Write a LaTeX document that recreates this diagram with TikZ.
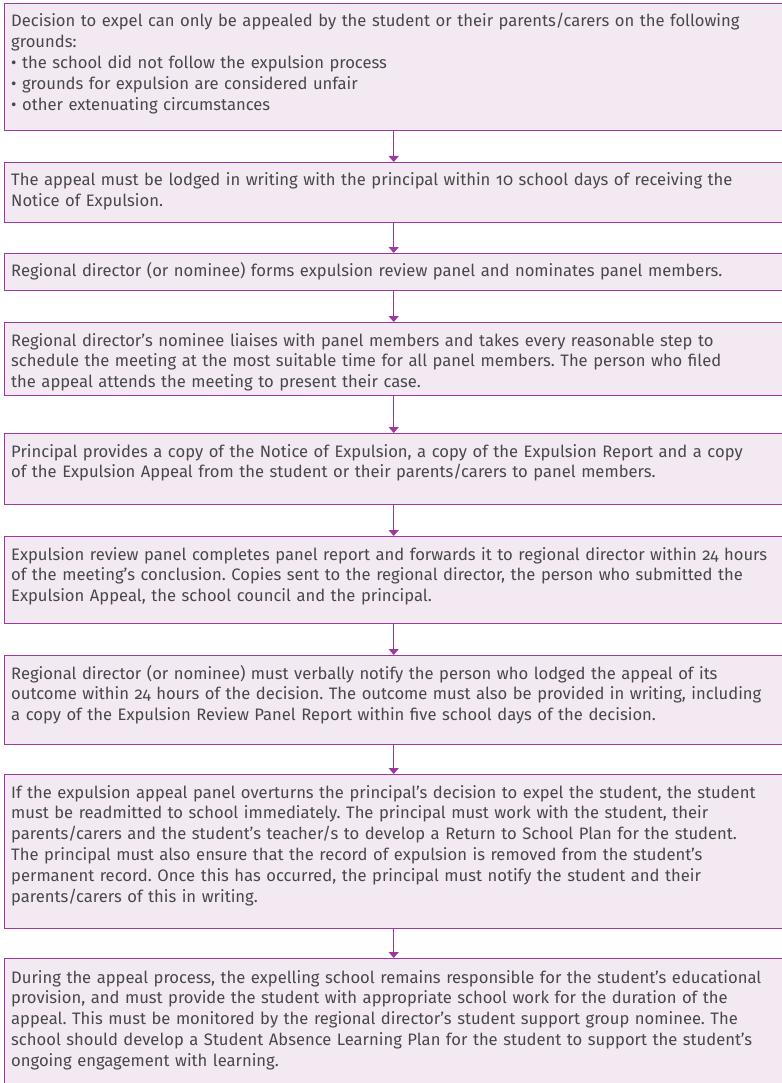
\documentclass[tikz,border=0pt]{standalone}
\usepackage{fontspec}
\setmainfont{Fira Sans}[Numbers=OldStyle]
\usetikzlibrary{arrows.meta}
\definecolor{boxline}{RGB}{160,55,160}
\definecolor{boxfill}{RGB}{243,233,242}
\definecolor{boxtext}{RGB}{72,72,72}
\frenchspacing

\begin{document}
\begin{tikzpicture}[x=1pt, y=1pt,
	stepbox/.style={draw=boxline, fill=boxfill, line width=1.4pt,
		minimum width=800pt, anchor=north west, inner sep=0pt},
	steptext/.style={anchor=base west, inner sep=0pt, text width=772pt,
		align=left, text=boxtext, font=\fontsize{16.6}{20.8}\selectfont},
	link/.style={draw=boxline, line width=1.5pt,
		-{Triangle[width=10pt, length=6pt]}}]

	\useasboundingbox (0,0) rectangle (781,-1083);

	\node [stepbox, minimum height=127pt] (grounds) at (4,-3) {};
	\node [steptext] (groundstxt) at ([xshift=7pt, yshift=-24pt]grounds.north west)
		{Decision to expel can only be appealed by the student or their parents/carers on the following\\
		grounds:\\
		• the school did not follow the expulsion process\\
		• grounds for expulsion are considered unfair\\
		• other extenuating circumstances};

	\node [stepbox, minimum height=60pt] (lodge) at (4,-162) {};
	\node [steptext] (lodgetxt) at ([xshift=7pt, yshift=-24pt]lodge.north west)
		{The appeal must be lodged in writing with the principal within 10 school days of receiving the\\
		Notice of Expulsion.};

	\node [stepbox, minimum height=37pt] (panel) at (4,-253) {};
	\node [steptext] (paneltxt) at ([xshift=7pt, yshift=-23pt]panel.north west)
		{Regional director (or nominee) forms expulsion review panel and nominates panel members.};

	\node [stepbox, minimum height=73pt] (meeting) at (4,-322) {};
	\node [steptext] (meetingtxt) at ([xshift=7pt, yshift=-24pt]meeting.north west)
		{Regional director's nominee liaises with panel members and takes every reasonable step to\\
		schedule the meeting at the most suitable time for all panel members. The person who filed\\
		the appeal attends the meeting to present their case.};

	\node [stepbox, minimum height=71pt] (copies) at (4,-433) {};
	\node [steptext] (copiestxt) at ([xshift=7pt, yshift=-24pt]copies.north west)
		{Principal provides a copy of the Notice of Expulsion, a copy of the Expulsion Report and a copy\\
		of the Expulsion Appeal from the student or their parents/carers to panel members.};

	\node [stepbox, minimum height=87pt] (report) at (4,-536) {};
	\node [steptext] (reporttxt) at ([xshift=7pt, yshift=-24pt]report.north west)
		{Expulsion review panel completes panel report and forwards it to regional director within 24 hours\\
		of the meeting's conclusion. Copies sent to the regional director, the person who submitted the\\
		Expulsion Appeal, the school council and the principal.};

	\node [stepbox, minimum height=89pt] (notify) at (4,-655) {};
	\node [steptext] (notifytxt) at ([xshift=7pt, yshift=-24pt]notify.north west)
		{Regional director (or nominee) must verbally notify the person who lodged the appeal of its\\
		outcome within 24 hours of the decision. The outcome must also be provided in writing, including\\
		a copy of the Expulsion Review Panel Report within five school days of the decision.};

	\node [stepbox, minimum height=154pt] (overturn) at (4,-774) {};
	\node [steptext] (overturntxt) at ([xshift=7pt, yshift=-24pt]overturn.north west)
		{If the expulsion appeal panel overturns the principal's decision to expel the student, the student\\
		must be readmitted to school immediately. The principal must work with the student, their\\
		parents/carers and the student's teacher/s to develop a Return to School Plan for the student.\\
		The principal must also ensure that the record of expulsion is removed from the student's\\
		permanent record. Once this has occurred, the principal must notify the student and their\\
		parents/carers of this in writing.};

	\node [stepbox, minimum height=140pt] (provision) at (4,-958) {};
	\node [steptext] (provisiontxt) at ([xshift=7pt, yshift=-25pt]provision.north west)
		{During the appeal process, the expelling school remains responsible for the student's educational\\
		provision, and must provide the student with appropriate school work for the duration of the\\
		appeal. This must be monitored by the regional director's student support group nominee. The\\
		school should develop a Student Absence Learning Plan for the student to support the student's\\
		ongoing engagement with learning.};

	\draw [link] ([xshift=-11pt]grounds.south) -- ([xshift=-11pt]lodge.north);
	\draw [link] ([xshift=-11pt]lodge.south) -- ([xshift=-11pt]panel.north);
	\draw [link] ([xshift=-11pt]panel.south) -- ([xshift=-11pt]meeting.north);
	\draw [link] ([xshift=-11pt]meeting.south) -- ([xshift=-11pt]copies.north);
	\draw [link] ([xshift=-11pt]copies.south) -- ([xshift=-11pt]report.north);
	\draw [link] ([xshift=-11pt]report.south) -- ([xshift=-11pt]notify.north);
	\draw [link] ([xshift=-11pt]notify.south) -- ([xshift=-11pt]overturn.north);
	\draw [link] ([xshift=-11pt]overturn.south) -- ([xshift=-11pt]provision.north);

\end{tikzpicture}
\end{document}
